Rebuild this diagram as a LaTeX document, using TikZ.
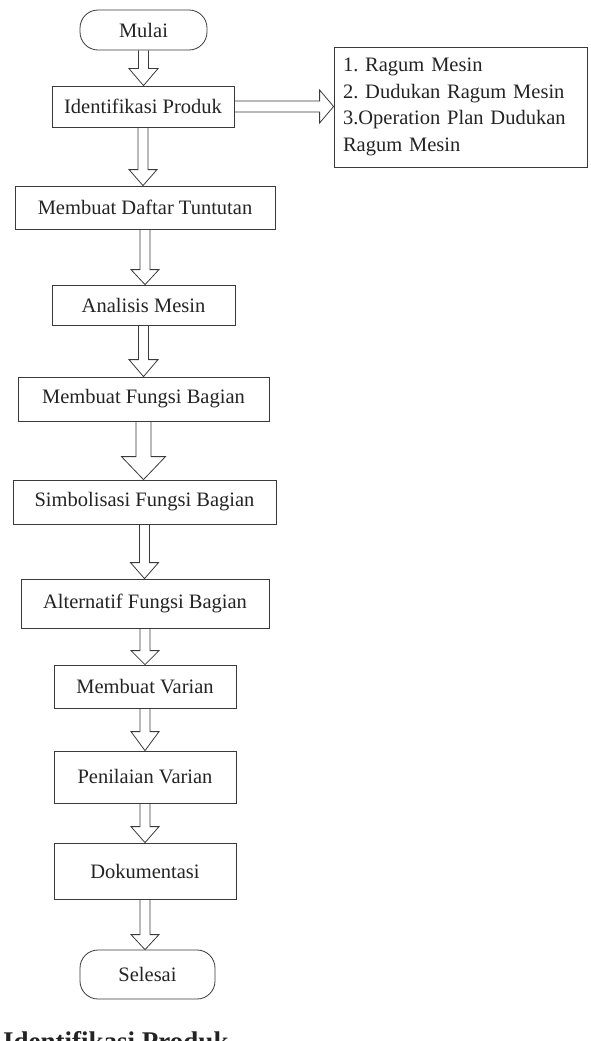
\documentclass[tikz,border=0pt]{standalone}
\usepackage{fontspec}
\setmainfont{Liberation Serif}
\usepackage{tikz}
\usepackage{xcolor}
\usetikzlibrary{calc}
\definecolor{inkc}{HTML}{3A3A3A}
\colorlet{linecolor}{inkc}
\colorlet{textcolor}{inkc!60!black}
\tikzstyle{flowbox} =[
    draw=linecolor,
    line width=0.8pt,
    rectangle,
    text=textcolor,
    font=\fontsize{20.5}{26.7}\selectfont\frenchspacing
    ]
\tikzstyle{termbox} =[
    flowbox,
    rounded corners=18pt
    ]
\tikzstyle{arrowline} =[
    draw=linecolor,
    line width=0.8pt,
    line join=miter
    ]
\newcommand{\blockdown}[5]{% from, to, shaft half, head half, head length
\draw[arrowline] ($(#1.south)+(-#3,0)$) -- ($(#1.south |- #2.north)+(-#3,-#5)$)
    -- ($(#1.south |- #2.north)+(-#4,-#5)$) -- (#1.south |- #2.north)
    -- ($(#1.south |- #2.north)+(#4,-#5)$) -- ($(#1.south |- #2.north)+(#3,-#5)$)
    -- ($(#1.south)+(#3,0)$);
}
\newcommand{\blockright}[5]{% from, to, shaft half, head half, head length
\draw[arrowline] ($(#1.east)+(0,-#3)$) -- ($(#1.east -| #2.west)+(-#5,-#3)$)
    -- ($(#1.east -| #2.west)+(-#5,-#4)$) -- (#1.east -| #2.west)
    -- ($(#1.east -| #2.west)+(-#5,#4)$) -- ($(#1.east -| #2.west)+(-#5,#3)$)
    -- ($(#1.east)+(0,#3)$);
}

\begin{document}
\begin{tikzpicture}[x=1pt,y=-1pt]
\useasboundingbox (0,0) rectangle (591,1041);
\clip (0,0) rectangle (591,1041);

\node[termbox, minimum width=127pt, minimum height=40pt] (mulai) at (143.5,30) {Mulai};
\node[flowbox, minimum width=182pt, minimum height=41pt] (identifikasi) at (143,106.5) {Identifikasi Produk};
\node[flowbox, minimum width=253pt, minimum height=120pt, text width=235pt, inner xsep=9pt, align=left] (produk) at (460.5,107) {%
1. Ragum Mesin\\
2. Dudukan Ragum Mesin\\
3.Operation Plan Dudukan\\
Ragum Mesin};
\node[flowbox, minimum width=260pt, minimum height=43pt] (daftar) at (145,207.5) {Membuat Daftar Tuntutan};
\node[flowbox, minimum width=183pt, minimum height=40pt] (analisis) at (143.5,305) {Analisis Mesin};
\node[flowbox, minimum width=251pt, minimum height=44pt] (fungsi) at (143.5,399) {Membuat Fungsi Bagian};
\node[flowbox, minimum width=263pt, minimum height=44pt] (simbol) at (144.5,502) {Simbolisasi Fungsi Bagian};
\node[flowbox, minimum width=248pt, minimum height=49pt] (alternatif) at (145,603.5) {Alternatif Fungsi Bagian};
\node[flowbox, minimum width=182pt, minimum height=43pt] (varian) at (145,686.5) {Membuat Varian};
\node[flowbox, minimum width=182pt, minimum height=52pt] (penilaian) at (145,777) {Penilaian Varian};
\node[flowbox, minimum width=182pt, minimum height=56pt] (dokumentasi) at (145,871) {Dokumentasi};
\node[termbox, minimum width=135pt, minimum height=49pt] (selesai) at (147.5,974.5) {Selesai};

\blockdown{mulai}{identifikasi}{5}{14.5}{17}
\blockright{identifikasi}{produk}{5.5}{16.5}{14}
\blockdown{identifikasi}{daftar}{5}{14}{16}
\blockdown{daftar}{analisis}{5}{14}{15}
\blockdown{analisis}{fungsi}{5}{14.5}{17}
\blockdown{fungsi}{simbol}{7.5}{22}{23}
\blockdown{simbol}{alternatif}{5}{14}{16}
\blockdown{alternatif}{varian}{5}{14}{14}
\blockdown{varian}{penilaian}{5}{14}{19}
\blockdown{penilaian}{dokumentasi}{5}{14}{16}
\blockdown{dokumentasi}{selesai}{5}{14}{15}

\node[anchor=base west, text=textcolor, font=\fontsize{27}{30}\selectfont\bfseries, inner sep=0pt] (judul) at (3,1050) {Identifikasi Produk};
\end{tikzpicture}
\end{document}
